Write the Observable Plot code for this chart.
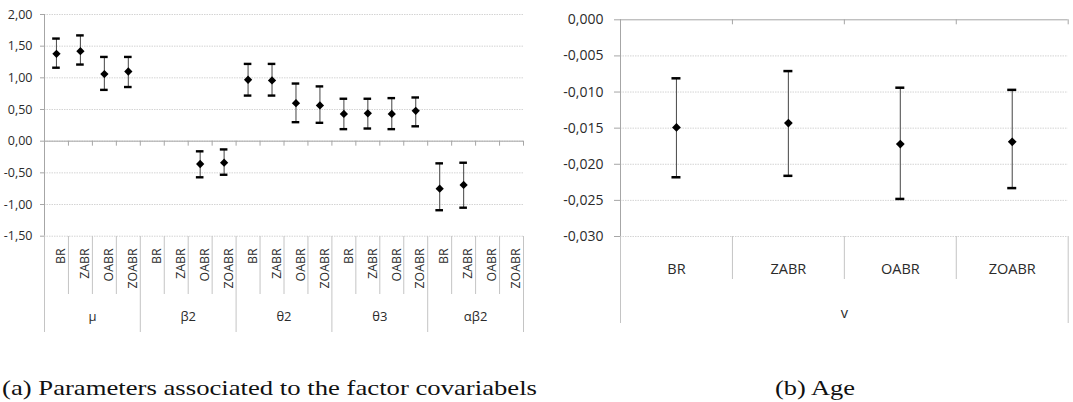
<!DOCTYPE html>
<html><head><meta charset="utf-8">
<script src="https://cdn.jsdelivr.net/npm/d3@7"></script>
<script src="https://cdn.jsdelivr.net/npm/@observablehq/plot@0.6"></script>
<style>
body{margin:0;background:#fff;}
#wrap{position:relative;width:1073px;height:402px;overflow:hidden;background:#fff;}
.p{position:absolute;}
.cap{position:absolute;font-family:"Liberation Serif",serif;font-size:22px;line-height:24px;color:#111;white-space:nowrap;transform-origin:0 0;}
</style></head><body>
<div id="wrap"></div>
<script>
// ---------- data: panel (a) ----------
const groups = ["μ", "β2", "θ2", "θ3", "αβ2"];
const models = ["BR", "ZABR", "OABR", "ZOABR"];
// estimates, lower and upper limits; order: group by group, models inside
const estimate = [1.38, 1.42, 1.06, 1.10,  null, null, -0.36, -0.34,  0.97, 0.96, 0.60, 0.565,  0.43, 0.44, 0.43, 0.48,  -0.75, -0.69, null, null];
const lower    = [1.16, 1.21, 0.81, 0.855, null, null, -0.57, -0.53,  0.72, 0.72, 0.30, 0.29,   0.19, 0.20, 0.19, 0.235, -1.09, -1.05, null, null];
const upper    = [1.62, 1.67, 1.33, 1.33,  null, null, -0.16, -0.13,  1.22, 1.22, 0.91, 0.865,  0.67, 0.67, 0.68, 0.69,  -0.35, -0.34, null, null];
const yTicksA  = [-1.5, -1.0, -0.5, 0, 0.5, 1.0, 1.5, 2.0];

// ---------- data: panel (b) ----------
const ageGroup = "v";
const ageModels = ["BR", "ZABR", "OABR", "ZOABR"];
const ageEstimate = [-0.0149, -0.0143, -0.0172, -0.0169];
const ageLower    = [-0.0218, -0.0216, -0.0248, -0.0233];
const ageUpper    = [-0.0081, -0.0071, -0.0094, -0.0097];
const yTicksB     = [-0.030, -0.025, -0.020, -0.015, -0.010, -0.005, 0];

const captionA = "(a) Parameters associated to the factor covariabels";
const captionB = "(b) Age";

// ---------- helpers ----------
const FONT = "Open Sans";
const gridCol = "#d4d4d4", axisCol = "#a6a6a6", sepCol = "#c4c4c4", txt = "#2b2b2b";
const diamond = {draw(ctx, size) {const a = Math.sqrt(size / 2); ctx.moveTo(0, -a); ctx.lineTo(a, 0); ctx.lineTo(0, a); ctx.lineTo(-a, 0); ctx.closePath();}};
const comma = (d, n) => d.toFixed(n).replace(".", ",");
const wrap = document.getElementById("wrap");
function place(el, left, top) {el.classList.add("p"); el.style.left = left + "px"; el.style.top = top + "px"; wrap.appendChild(el);}

// rows for panel (a)
const slots = estimate.map((e, i) => ({slot: i, c: i + 0.5, group: groups[Math.floor(i / 4)], model: models[i % 4], est: e, lo: lower[i], hi: upper[i]}));
const rowsA = slots.filter(d => d.est != null);
const boundsA = d3.range(0, slots.length + 1);
const groupRows = groups.map((g, k) => ({g, c: k * models.length + models.length / 2}));

// ---------- panel (a) main ----------
const plotA = Plot.plot({
  width: 530, height: 246, marginLeft: 44, marginRight: 7, marginTop: 14, marginBottom: 10.3,
  style: {fontFamily: FONT, fontSize: "12.5px", color: txt, background: "transparent"},
  x: {domain: [0, slots.length], axis: null},
  y: {domain: [-1.5, 2], ticks: yTicksA, tickFormat: d => comma(d, 2), tickSize: 0, tickPadding: 12, label: null},
  marks: [
    Plot.ruleY(yTicksA, {stroke: gridCol, strokeDasharray: "1.5,1"}),
    Plot.ruleX([0], {stroke: axisCol}),
    Plot.ruleY(yTicksA, {y: d => d, x1: 0, x2: 0, insetLeft: -4, stroke: axisCol}),
    Plot.ruleY([0], {stroke: axisCol}),
    Plot.ruleX(boundsA, {x: d => d, y1: 0, y2: 0, insetBottom: -5, stroke: axisCol}),
    Plot.ruleX(rowsA, {x: "c", y1: "lo", y2: "hi", stroke: "#555", strokeWidth: 1.1}),
    Plot.ruleY(rowsA, {y: "hi", x1: "c", x2: "c", insetLeft: -3.8, insetRight: -3.8, stroke: "#000", strokeWidth: 2.4}),
    Plot.ruleY(rowsA, {y: "lo", x1: "c", x2: "c", insetLeft: -3.8, insetRight: -3.8, stroke: "#000", strokeWidth: 2.4}),
    Plot.dot(rowsA, {x: "c", y: "est", symbol: diamond, r: 3.3, fill: "#000", stroke: "none"})
  ]
});
place(plotA, 0, 0);

// ---------- panel (a) category axis ----------
const labA = Plot.plot({
  width: 530, height: 100, marginLeft: 44, marginRight: 7, marginTop: 0, marginBottom: 0,
  style: {fontFamily: FONT, fontSize: "12.3px", color: txt, background: "transparent"},
  x: {domain: [0, slots.length], axis: null},
  marks: [
    Plot.ruleX(boundsA.filter(b => b % models.length !== 0), {x: d => d, stroke: sepCol, insetBottom: 42}),
    Plot.ruleX(boundsA.filter(b => b % models.length === 0), {x: d => d, stroke: sepCol, insetBottom: 4}),
    Plot.text(slots, {x: "c", text: "model", rotate: -90, frameAnchor: "top", textAnchor: "end", dy: 12, fill: txt}),
    Plot.text(groupRows, {x: "c", text: "g", frameAnchor: "top", dy: 75, fontSize: 13, fill: txt})
  ]
});
place(labA, 0, 236);

// ---------- panel (b) main ----------
const rowsB = ageModels.map((m, i) => ({c: i + 0.5, model: m, est: ageEstimate[i], lo: ageLower[i], hi: ageUpper[i]}));
const boundsB = d3.range(0, ageModels.length + 1);
const plotB = Plot.plot({
  width: 533, height: 246, marginLeft: 80, marginRight: 5.3, marginTop: 19.3, marginBottom: 10,
  style: {fontFamily: FONT, fontSize: "14px", color: txt, background: "transparent"},
  x: {domain: [0, ageModels.length], axis: null},
  y: {domain: [-0.03, 0], ticks: yTicksB, tickFormat: d => comma(d, 3), tickSize: 0, tickPadding: 17, label: null},
  marks: [
    Plot.ruleY(yTicksB.filter(t => t !== 0), {stroke: gridCol, strokeDasharray: "1.5,1"}),
    Plot.ruleX([0], {stroke: axisCol}),
    Plot.ruleY(yTicksB, {y: d => d, x1: 0, x2: 0, insetLeft: -6, stroke: axisCol}),
    Plot.ruleY([0], {stroke: axisCol}),
    Plot.ruleX(boundsB, {x: d => d, y1: 0, y2: 0, insetBottom: -5, stroke: axisCol}),
    Plot.ruleX(rowsB, {x: "c", y1: "lo", y2: "hi", stroke: "#555", strokeWidth: 1.1}),
    Plot.ruleY(rowsB, {y: "hi", x1: "c", x2: "c", insetLeft: -4.5, insetRight: -4.5, stroke: "#000", strokeWidth: 2.5}),
    Plot.ruleY(rowsB, {y: "lo", x1: "c", x2: "c", insetLeft: -4.5, insetRight: -4.5, stroke: "#000", strokeWidth: 2.5}),
    Plot.dot(rowsB, {x: "c", y: "est", symbol: diamond, r: 3.5, fill: "#000", stroke: "none"})
  ]
});
place(plotB, 540, 0);

// ---------- panel (b) category axis ----------
const labB = Plot.plot({
  width: 533, height: 90, marginLeft: 80, marginRight: 5.3, marginTop: 0, marginBottom: 0,
  style: {fontFamily: FONT, fontSize: "14.5px", color: txt, background: "transparent"},
  x: {domain: [0, ageModels.length], axis: null},
  marks: [
    Plot.ruleX(boundsB.filter(b => b > 0 && b < ageModels.length), {x: d => d, stroke: sepCol, insetBottom: 47}),
    Plot.ruleX([0, ageModels.length], {x: d => d, stroke: sepCol, insetBottom: 3}),
    Plot.text(rowsB, {x: "c", text: "model", frameAnchor: "top", dy: 27, fill: txt}),
    Plot.text([ageGroup], {x: ageModels.length / 2, text: d => d, frameAnchor: "top", dy: 71, fill: txt})
  ]
});
place(labB, 540, 236);

// ---------- captions ----------
function caption(text, left, top, targetWidth) {
  const d = document.createElement("div");
  d.className = "cap"; d.textContent = text;
  d.style.left = left + "px"; d.style.top = top + "px";
  wrap.appendChild(d);
  const w = d.getBoundingClientRect().width;
  d.style.transform = `scaleX(${targetWidth / w})`;
}
caption(captionA, 2, 376, 535);
caption(captionB, 775, 376, 80);
</script>
</body></html>
